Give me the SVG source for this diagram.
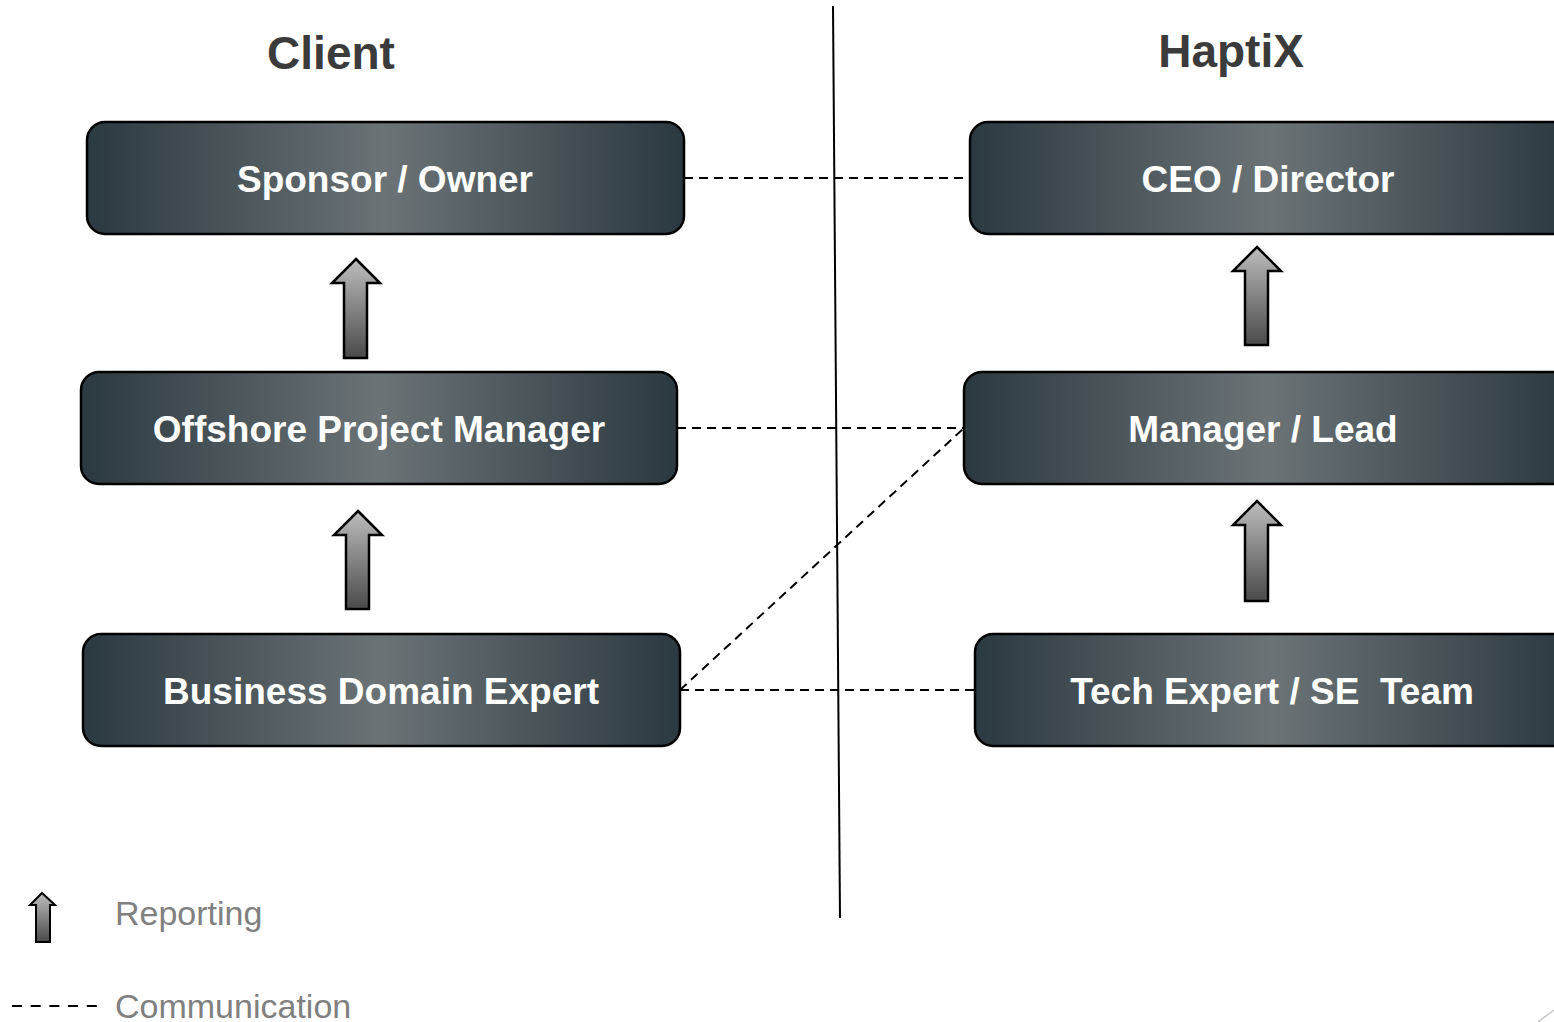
<svg xmlns="http://www.w3.org/2000/svg" width="1554" height="1022" viewBox="0 0 1554 1022">
<defs>
<linearGradient id="boxg" x1="0" y1="0" x2="1" y2="0">
<stop offset="0" stop-color="#2b3940"/>
<stop offset="0.5" stop-color="#6b7376"/>
<stop offset="1" stop-color="#2b3940"/>
</linearGradient>
<linearGradient id="arrg" x1="0" y1="0" x2="0" y2="1">
<stop offset="0" stop-color="#bdbdbd"/>
<stop offset="1" stop-color="#4a4a4a"/>
</linearGradient>
<style>
.box{fill:url(#boxg);stroke:#000;stroke-width:2.5}
.lbl{font-family:"Liberation Sans",Arial,sans-serif;font-weight:bold;font-size:37px;fill:#fff;text-anchor:middle;white-space:pre}
.hdr{font-family:"Liberation Sans",Arial,sans-serif;font-weight:bold;font-size:46px;fill:#3b3b3b;text-anchor:middle}
.leg{font-family:"Liberation Sans",Arial,sans-serif;font-size:34px;fill:#808080}
.dash{stroke:#000;stroke-width:2;stroke-dasharray:9 6;fill:none}
.arr{fill:url(#arrg);stroke:#000;stroke-width:2.5;stroke-linejoin:miter}
</style>
</defs>
<rect width="1554" height="1022" fill="#fff"/>
<text class="hdr" x="331" y="69">Client</text>
<text class="hdr" x="1231" y="67">HaptiX</text>
<g id="connectors">
<line x1="833" y1="6" x2="840" y2="918" stroke="#000" stroke-width="2"/>
<line class="dash" x1="684" y1="178" x2="970" y2="178"/>
<line class="dash" x1="677" y1="428" x2="964" y2="428"/>
<line class="dash" x1="680" y1="690" x2="975" y2="690"/>
<line class="dash" x1="680" y1="690" x2="964" y2="428"/>
<path class="arr" d="M356 259 L380 283 L367 283 L367 358 L344 358 L344 283 L332 283 Z"/>
<path class="arr" d="M358 511 L382 535 L369 535 L369 609 L346 609 L346 535 L334 535 Z"/>
<path class="arr" d="M1257 247 L1281 271 L1268 271 L1268 345 L1245 345 L1245 271 L1233 271 Z"/>
<path class="arr" d="M1257 501 L1281 525 L1268 525 L1268 601 L1245 601 L1245 525 L1233 525 Z"/>
</g>
<g id="sponsor"><rect class="box" x="87" y="122" width="597" height="112" rx="18"/><text class="lbl" x="385" y="192">Sponsor / Owner</text></g>
<g id="opm"><rect class="box" x="81" y="372" width="596" height="112" rx="18"/><text class="lbl" x="379" y="442">Offshore Project Manager</text></g>
<g id="bde"><rect class="box" x="83" y="634" width="597" height="112" rx="18"/><text class="lbl" x="381" y="704">Business Domain Expert</text></g>
<g id="ceo"><rect class="box" x="970" y="122" width="600" height="112" rx="18"/><text class="lbl" x="1268" y="192">CEO / Director</text></g>
<g id="mgr"><rect class="box" x="964" y="372" width="606" height="112" rx="18"/><text class="lbl" x="1263" y="442">Manager / Lead</text></g>
<g id="tech"><rect class="box" x="975" y="634" width="595" height="112" rx="18"/><text class="lbl" x="1272" y="704" xml:space="preserve">Tech Expert / SE  Team</text></g>
<g id="legend">
<path class="arr" d="M42 893 L55 905 L50 905 L50 942 L36 942 L36 905 L30 905 Z" style="stroke-width:2"/>
<text class="leg" x="115" y="925">Reporting</text>
<line class="dash" x1="12" y1="1006" x2="97" y2="1006" style="stroke-dasharray:10 8.7"/>
<text class="leg" x="115" y="1018">Communication</text>
</g>
<line x1="1538" y1="1022" x2="1554" y2="1010" stroke="#c8c8c8" stroke-width="1.5"/>
</svg>
